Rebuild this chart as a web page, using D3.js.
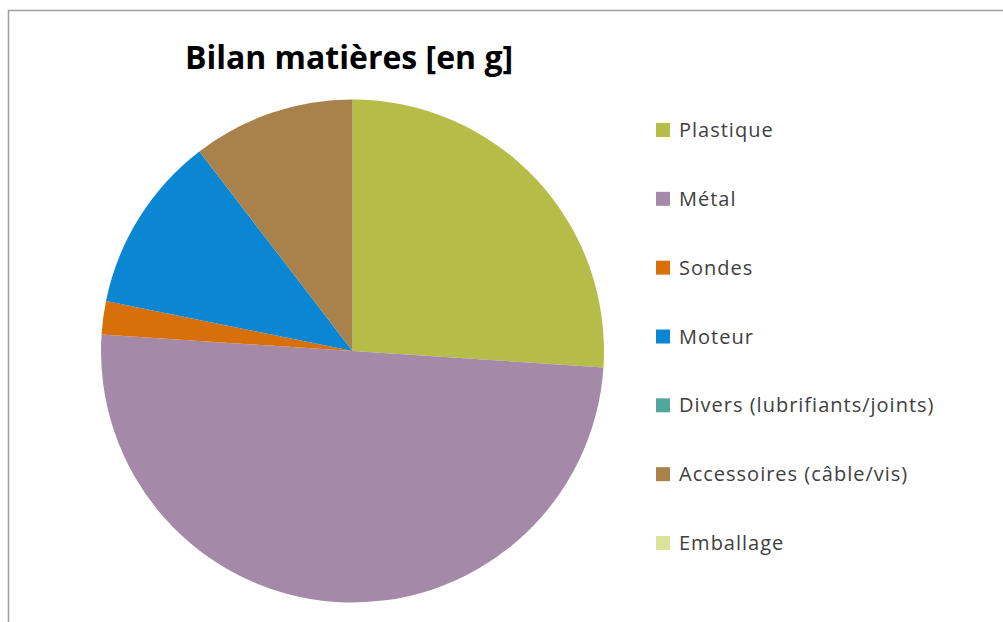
<!DOCTYPE html>
<html>
<head>
<meta charset="utf-8">
<script src="https://cdn.jsdelivr.net/npm/d3@7"></script>
<style>
  body { margin: 0; background: #fff; }
  text { font-family: "Open Sans", "DejaVu Sans", sans-serif; }
</style>
</head>
<body>
<script>
var width = 1003,
  height = 622;

// donnees (en g)
var categories = ["Plastique", "Métal", "Sondes", "Moteur", "Divers (lubrifiants/joints)", "Accessoires (câble/vis)", "Emballage"];
var valeurs = [1250, 2400, 103, 547, 0, 500, 0];
var couleurs = ["#b5bd48", "#a489a8", "#d8700a", "#0a86d2", "#4fa89b", "#a8824a", "#d9e39a"];

var data = categories.map(function (c, i) {
  return { nom: c, valeur: valeurs[i] };
});

var couleur = d3.scaleOrdinal().domain(categories).range(couleurs);

var svg = d3
  .select("body")
  .append("svg")
  .attr("width", width)
  .attr("height", height);

// cadre
svg.append("rect")
  .attr("x", 8.5)
  .attr("y", 10.5)
  .attr("width", 1000)
  .attr("height", 640)
  .attr("fill", "#fff")
  .attr("stroke", "#a0a0a0")
  .attr("stroke-width", 1.5);

svg.append("text")
  .attr("x", 349)
  .attr("y", 69)
  .attr("text-anchor", "middle")
  .style("font-size", "32px")
  .style("font-weight", "bold")
  .style("fill", "#000")
  .text("Bilan matières [en g]");

var base_diagramme = d3.pie()
  .sort(null)
  .value(function (d) { return d.valeur; })(data);

var segments = d3.arc().innerRadius(0).outerRadius(251.5);

svg.append("g")
  .attr("transform", "translate(352.5,351)")
  .selectAll("path")
  .data(base_diagramme)
  .enter()
  .append("path")
  .attr("d", segments)
  .attr("fill", function (d) { return couleur(d.data.nom); });

var y = d3.scalePoint().domain(categories).range([130, 543]);

var legend = svg.append("g")
  .selectAll("g")
  .data(data)
  .enter()
  .append("g")
  .attr("transform", function (d) {
    return "translate(656," + y(d.nom) + ")";
  });

legend.append("rect")
  .attr("y", -7)
  .attr("width", 14)
  .attr("height", 14)
  .attr("fill", function (d) { return couleur(d.nom); });

legend.append("text")
  .attr("x", 23)
  .attr("y", 7)
  .style("font-size", "20px")
  .style("letter-spacing", "1px")
  .style("fill", "#404040")
  .text(function (d) { return d.nom; });
</script>
</body>
</html>
